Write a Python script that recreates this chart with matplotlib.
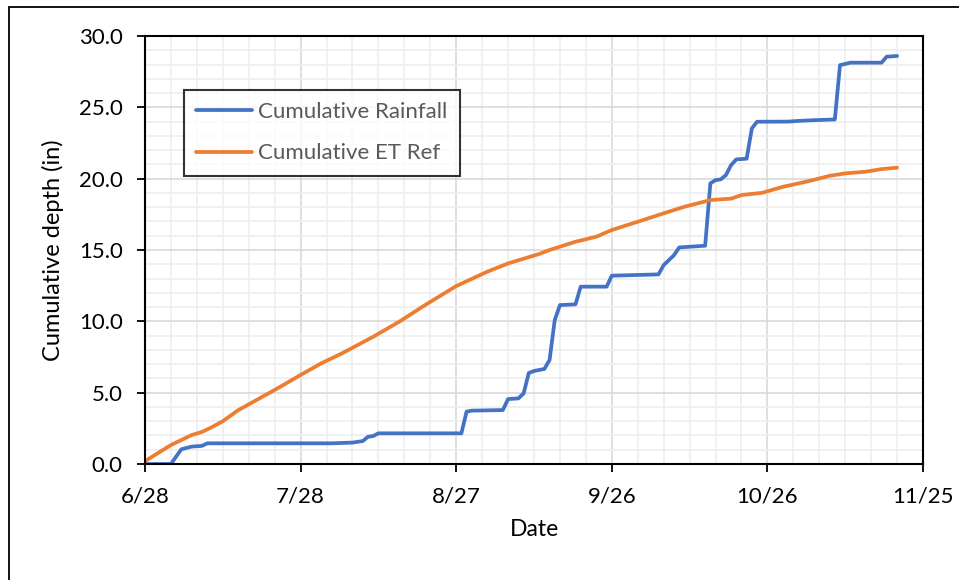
import matplotlib
matplotlib.use("Agg")
import matplotlib.pyplot as plt
from matplotlib.patches import Rectangle
import numpy as np
import pandas as pd

plt.rcParams['font.family'] = ['Lato', 'DejaVu Sans']

start = pd.Timestamp("2020-06-28")

# Cumulative rainfall: (day offset from 6/28, inches)
rain_days = [0, 5, 7, 9, 11, 12, 36, 40, 42, 43, 44, 45, 61, 62, 63, 69, 70, 72, 73,
             74, 75, 77, 78, 79, 80, 83, 84, 89, 90, 95, 99, 100, 102, 103, 108,
             109, 110, 111, 112, 113, 114, 116, 117, 118, 124, 126, 129, 133, 134,
             136, 142, 143, 145]
rain_vals = [0.0, 0.0, 1.03, 1.22, 1.27, 1.45, 1.45, 1.50, 1.61, 1.91, 1.96, 2.15, 2.15,
             3.67, 3.74, 3.78, 4.55, 4.60, 4.95, 6.38, 6.52, 6.66, 7.29, 10.09, 11.14,
             11.19, 12.43, 12.43, 13.20, 13.25, 13.29, 13.94, 14.64, 15.18, 15.30,
             19.67, 19.90, 19.95, 20.25, 20.95, 21.35, 21.40, 23.52, 23.99, 24.00,
             24.05, 24.10, 24.15, 27.96, 28.13, 28.13, 28.55, 28.60]

# Cumulative reference ET: (day offset from 6/28, inches)
et_days = [0, 5, 7, 9, 11, 13, 15, 18, 25, 30, 34, 38, 44, 49, 54, 60, 66, 70, 76, 78, 83,
           87, 90, 95, 100, 104, 109, 113, 115, 119, 123, 128, 132, 135, 139, 142, 145]
et_vals = [0.20, 1.33, 1.68, 2.03, 2.25, 2.60, 3.00, 3.78, 5.19, 6.24, 7.06, 7.76, 8.92,
           9.97, 11.14, 12.47, 13.48, 14.06, 14.72, 15.00, 15.58, 15.93, 16.40, 16.98,
           17.57, 18.03, 18.50, 18.60, 18.85, 19.01, 19.43, 19.83, 20.20, 20.37, 20.49,
           20.67, 20.77]

x_tick_labels = ["6/28", "7/28", "8/27", "9/26", "10/26", "11/25"]
y_ticks = [0, 5, 10, 15, 20, 25, 30]

rain_dates = [start + pd.Timedelta(days=d) for d in rain_days]
et_dates = [start + pd.Timedelta(days=d) for d in et_days]
x_ticks = [start + pd.Timedelta(days=30 * i) for i in range(len(x_tick_labels))]

fig = plt.figure(figsize=(9.59, 5.80), dpi=100)
ax = fig.add_axes([145 / 959, 116 / 580, (923 - 145) / 959, (464 - 36) / 580])

# Outer frame (only left/top visible in reference)
fig.patches.append(Rectangle((9 / 959, -0.2), 1.2, 1.2 - 7 / 580,
                             transform=fig.transFigure, fill=False,
                             edgecolor='black', linewidth=1.3, clip_on=False))

ax.plot(rain_dates, rain_vals, color='#4472C4', linewidth=2.7,
        label='Cumulative Rainfall', solid_joinstyle='round', solid_capstyle='round')
ax.plot(et_dates, et_vals, color='#ED7D31', linewidth=2.7,
        label='Cumulative ET Ref', solid_joinstyle='round', solid_capstyle='round')

ax.set_xlim(x_ticks[0], x_ticks[-1])
ax.set_ylim(0, 30)
ax.set_xticks(x_ticks)
ax.set_xticklabels(x_tick_labels)
minor_x = [start + pd.Timedelta(days=5 * i) for i in range(31)]
ax.set_xticks(minor_x, minor=True)
ax.set_yticks(y_ticks)
ax.set_yticklabels([f"{v:.1f}" for v in y_ticks])
ax.set_yticks(np.arange(0, 31, 1), minor=True)

ax.grid(which='minor', color='#eeeeee', linewidth=1.2)
ax.grid(which='major', color='#d9d9d9', linewidth=1.2)
ax.set_axisbelow(True)

ax.tick_params(which='major', direction='out', length=6, width=1.3, color='black',
               labelsize=16, labelcolor='black')
ax.tick_params(axis='y', pad=10)
ax.tick_params(axis='x', pad=10)
ax.tick_params(which='minor', length=0)

for s in ax.spines.values():
    s.set_color('black')
    s.set_linewidth(1.5)

ax.set_xlabel('Date', fontsize=16.5, labelpad=9)
ax.set_ylabel('Cumulative depth (in)', fontsize=17, labelpad=11)

leg = ax.legend(loc='upper left', bbox_to_anchor=((184 - 145) / 778, (464 - 90) / 428),
                fontsize=16, frameon=True, fancybox=False, edgecolor='black',
                handlelength=2.5, handletextpad=0.3, labelspacing=0.95,
                borderpad=0.55, borderaxespad=0)
leg.get_frame().set_linewidth(1.5)
for t in leg.get_texts():
    t.set_color('#595959')

fig.savefig('out.png', dpi=100, facecolor='white')
